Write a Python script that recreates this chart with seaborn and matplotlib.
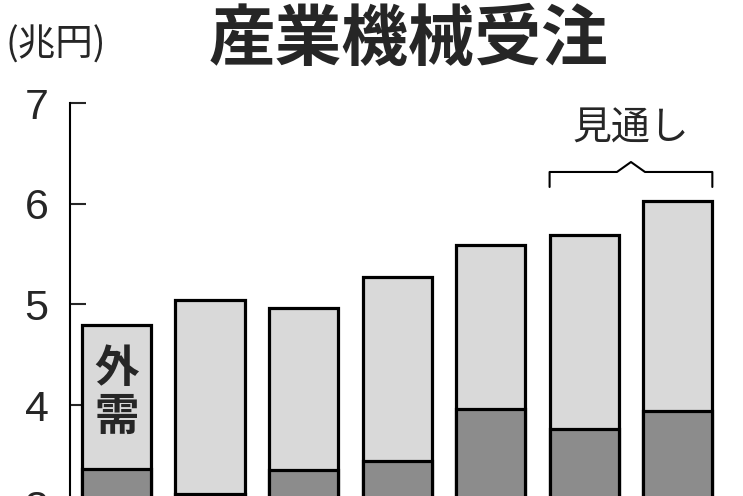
import matplotlib
matplotlib.use("Agg")
import matplotlib.pyplot as plt
import seaborn as sns
import pandas as pd

# ---- data (兆円) ----
years = ["2013", "2014", "2015", "2016", "2017", "2018", "2019"]
total = [4.80, 5.04, 4.96, 5.27, 5.59, 5.69, 6.03]       # 合計 (内需+外需)
domestic = [3.37, 3.12, 3.36, 3.44, 3.96, 3.76, 3.94]    # 内需
forecast = ["2018", "2019"]                               # 見通し
yticks = [3, 4, 5, 6, 7]

df = pd.DataFrame({"year": years, "total": total, "domestic": domestic})

sns.set_style("white")
plt.rcParams["font.family"] = ["Noto Sans CJK JP", "DejaVu Sans"]

W, H = 743, 496
fig = plt.figure(figsize=(W / 100, H / 100), dpi=100)

# axes placement: y=7 at px 103, 100.7 px per unit, ylim bottom 2
ppu = 100.7
top_px = 103
bot_px = top_px + 5 * ppu
left_px, right_px = 69.5, 724.5
ax = fig.add_axes([left_px / W, 1 - bot_px / H, (right_px - left_px) / W, (bot_px - top_px) / H])

bw = 0.74
sns.barplot(data=df, x="year", y="total", color="#d9d9d9", edgecolor="black",
            linewidth=2.3, width=bw, ax=ax, saturation=1)
sns.barplot(data=df, x="year", y="domestic", color="#8c8c8c", edgecolor="black",
            linewidth=2.3, width=bw, ax=ax, saturation=1)

ax.set_ylim(2, 7)
ax.set_xlim(-0.503, len(years) - 0.5)
ax.set_yticks(yticks)
ax.set_yticklabels([str(t) for t in yticks], family="Liberation Sans", fontsize=31)
ax.tick_params(axis="y", direction="in", length=11.5, width=1.5, pad=15, left=True)
ax.tick_params(axis="x", bottom=False, labelbottom=False)
ax.set_xlabel("")
ax.set_ylabel("")
for s in ["top", "right", "bottom"]:
    ax.spines[s].set_visible(False)
ax.spines["left"].set_linewidth(1.5)
ax.spines["left"].set_color("black")

# labels
fig.text(409 / W, 1 - 40 / H, "産業機械受注", ha="center", va="center",
         fontsize=48, fontweight="bold", family=["Noto Sans CJK JP", "DejaVu Sans"])
fig.text(56 / W, 1 - 45 / H, "(兆円)", ha="center", va="center",
         fontsize=27, family=["Noto Sans CJK JP", "DejaVu Sans"])

ax.text(0, 4.36, "外", ha="center", va="center", fontsize=32, fontweight="bold")
ax.text(0, 3.88, "需", ha="center", va="center", fontsize=32, fontweight="bold")

# forecast bracket
i0 = years.index(forecast[0])
i1 = years.index(forecast[-1])
xl, xr = i0 - bw / 2, i1 + bw / 2
xm = (xl + xr) / 2
yb, yl, yp = 6.166, 6.315, 6.414
ax.plot([xl, xl, xm - 0.15, xm, xm + 0.15, xr, xr],
        [yb, yl, yl, yp, yl, yl, yb], color="black", lw=1.5, clip_on=False)
ax.text(xm, 6.75, "見通し", ha="center", va="center", fontsize=28)

fig.savefig("out.png", dpi=100)
